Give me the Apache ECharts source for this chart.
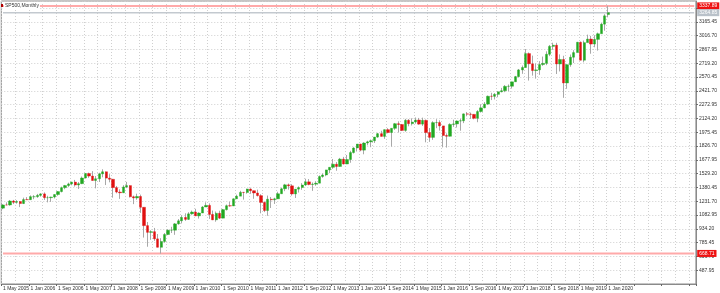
<!DOCTYPE html>
<html><head><meta charset="utf-8">
<script src="https://cdn.jsdelivr.net/npm/echarts@6/dist/echarts.min.js"></script>
<style>html,body{margin:0;padding:0;background:#fff}#c{width:720px;height:293px}</style>
</head><body><div id="c"></div>
<script>
const symbolTitle = "SP500,Monthly";
const xTickLabels = ["1 May 2005","1 Jan 2006","1 Sep 2006","1 May 2007","1 Jan 2008","1 Sep 2008","1 May 2009","1 Jan 2010","1 Sep 2010","1 May 2011","1 Jan 2012","1 Sep 2012","1 May 2013","1 Jan 2014","1 Sep 2014","1 May 2015","1 Jan 2016","1 Sep 2016","1 May 2017","1 Jan 2018","1 Sep 2018","1 May 2019","1 Jan 2020"];

const open = [
1156.85,1191.5,1191.33,1234.18,1220.33,1228.81,1207.01,1249.48,
1248.29,1280.08,1280.66,1294.83,1310.61,1270.09,1270.2,1276.66,1303.82,1335.85,1377.94,1400.63,
1418.3,1438.24,1406.82,1420.86,1482.37,1530.62,1503.35,1455.27,1473.99,1526.75,1549.38,1481.14,
1468.36,1378.55,1330.63,1322.7,1385.59,1400.38,1280,1267.38,1282.83,1166.36,968.75,896.24,
903.25,825.88,735.09,797.87,872.81,919.14,919.32,987.48,1020.62,1057.08,1036.19,1095.63,
1115.1,1073.87,1104.49,1169.43,1186.69,1089.41,1030.71,1101.6,1049.33,1141.2,1183.26,1180.55,
1257.64,1286.12,1327.22,1325.83,1363.61,1345.2,1320.64,1292.28,1218.89,1131.42,1253.3,1246.96,
1257.6,1312.41,1365.68,1408.47,1397.91,1310.33,1362.16,1379.32,1406.58,1440.67,1412.16,1416.18,
1426.19,1498.11,1514.68,1569.19,1597.57,1630.74,1606.28,1685.73,1632.97,1681.55,1756.54,1805.81,
1848.36,1782.59,1859.45,1872.34,1883.95,1923.57,1960.23,1930.67,2003.37,1972.29,2018.05,2067.56,
2058.9,1994.99,2104.5,2067.89,2085.51,2107.39,2063.11,2103.84,1972.18,1920.03,2079.36,2080.41,
2043.94,1940.24,1932.23,2059.74,2065.3,2096.95,2098.86,2173.6,2170.95,2168.27,2126.15,2198.81,
2238.83,2278.87,2363.64,2362.72,2384.2,2411.8,2423.41,2470.3,2471.65,2519.36,2575.26,2647.58,
2673.61,2823.81,2713.83,2640.87,2648.05,2705.27,2718.37,2816.29,2901.52,2913.98,2711.74,2760.17,
2506.85,2704.1,2784.49,2834.4,2945.83,2752.06,2941.76,2980.38,2926.46,2976.74,3037.56,3140.98,
3244.67];

const high = [
1199.56,1219.59,1245.15,1245.86,1243.13,1233.34,1270.64,1275.8,
1294.9,1297.57,1310.88,1318.16,1326.7,1290.68,1280.42,1306.74,1340.28,1389.45,1407.89,1431.81,
1441.61,1461.57,1438.89,1498.02,1535.56,1540.56,1555.9,1503.89,1538.74,1576.09,1552,1523.57,
1471.77,1396.02,1359.68,1404.57,1440.24,1404.05,1292.17,1313.15,1303.04,1167.03,1007.51,918.85,
943.85,877.86,832.98,888.7,930.17,956.23,996.68,1039.47,1080.15,1101.36,1113.69,1130.38,
1150.45,1112.42,1180.16,1219.8,1208.65,1131.23,1120.95,1129.24,1148.9,1196.14,1227.08,1262.6,
1302.67,1344.07,1332.28,1366.6,1370.58,1345.2,1356.48,1307.38,1229.29,1292.66,1277.55,1269.37,
1333.47,1378.04,1419.15,1422.38,1415.32,1363.46,1391.74,1426.68,1474.51,1470.96,1434.27,1448,
1509.94,1530.94,1570.28,1597.57,1687.18,1654.19,1698.78,1709.67,1729.86,1775.22,1813.55,1849.44,
1850.84,1867.92,1883.97,1897.28,1924.03,1968.17,1991.39,2005.04,2019.26,2018.19,2075.76,2093.55,
2064.43,2119.59,2117.52,2125.92,2134.72,2129.87,2132.82,2112.66,2020.86,2094.32,2116.48,2104.27,
2044,1962.96,2072.21,2111.05,2103.48,2120.55,2177.09,2193.81,2187.87,2169.6,2214.1,2277.53,
2300.99,2371.54,2400.98,2398.16,2418.71,2453.82,2484.04,2490.87,2519.44,2582.98,2657.74,2694.97,
2872.87,2835.96,2801.9,2717.49,2742.24,2791.47,2848.03,2916.5,2940.91,2939.86,2815.15,2800.18,
2708.95,2813.49,2860.31,2949.52,2954.13,2964.15,3027.98,3013.59,3021.99,3050.1,3154.26,3247.93,
3337.77];

const low = [
1146.18,1188.3,1183.55,1201.07,1205.35,1168.2,1201.07,1246.59,
1245.74,1253.61,1268.42,1280.74,1245.34,1219.29,1224.54,1261.3,1290.93,1327.1,1360.98,1385.93,
1403.97,1389.42,1363.98,1416.37,1476.7,1484.18,1454.25,1370.6,1439.29,1489.56,1406.1,1435.65,
1270.05,1316.75,1256.98,1320,1373.07,1272,1200.44,1247.45,1106.39,839.8,741.02,815.69,
804.22,734.52,666.79,783.32,866.1,888.86,869.32,978.51,991.97,1019.95,1029.38,1085.89,
1071.59,1044.5,1105.24,1170.69,1040.78,1028.33,1010.91,1039.7,1048.18,1131.87,1173,1186.6,
1257.62,1289.14,1249.05,1312.7,1311.8,1258.07,1282.86,1101.54,1114.22,1074.77,1158.66,1202.37,
1257,1312.41,1340.03,1357.38,1291.98,1266.74,1325.41,1354.65,1396.56,1403.28,1343.35,1398.11,
1426.19,1485.01,1501.48,1536.03,1581.28,1560.33,1604.57,1627.47,1632,1646.47,1746.2,1767.99,
1770.45,1737.92,1834.44,1814.36,1859.79,1915.98,1930.67,1904.78,1964.04,1820.66,2001.01,1972.56,
1988.44,1980.9,2039.69,2048.38,2067.93,2056.32,2044.02,1867.01,1871.91,1893.7,2019.39,1993.26,
1812.29,1810.1,1931,2033.8,2025.91,1991.68,2074.02,2147.58,2119.12,2114.72,2083.79,2187.44,
2233.62,2271.65,2322.25,2328.95,2352.72,2405.7,2407.7,2417.35,2446.55,2520.4,2566.33,2605.52,
2672,2532.69,2585.89,2553.8,2594.62,2691.99,2698.95,2796.34,2864.12,2603.54,2631.09,2346.58,
2443.96,2681.83,2722.27,2848.63,2750.52,2728.81,2952.22,2822.12,2891.85,2855.94,3050.72,3070.33,
3214.64];

const close = [
1191.5,1191.33,1234.18,1220.33,1228.81,1207.01,1249.48,1248.29,
1280.08,1280.66,1294.83,1310.61,1270.09,1270.2,1276.66,1303.82,1335.85,1377.94,1400.63,1418.3,
1438.24,1406.82,1420.86,1482.37,1530.62,1503.35,1455.27,1473.99,1526.75,1549.38,1481.14,1468.36,
1378.55,1330.63,1322.7,1385.59,1400.38,1280,1267.38,1282.83,1166.36,968.75,896.24,903.25,
825.88,735.09,797.87,872.81,919.14,919.32,987.48,1020.62,1057.08,1036.19,1095.63,1115.1,
1073.87,1104.49,1169.43,1186.69,1089.41,1030.71,1101.6,1049.33,1141.2,1183.26,1180.55,1257.64,
1286.12,1327.22,1325.83,1363.61,1345.2,1320.64,1292.28,1218.89,1131.42,1253.3,1246.96,1257.6,
1312.41,1365.68,1408.47,1397.91,1310.33,1362.16,1379.32,1406.58,1440.67,1412.16,1416.18,1426.19,
1498.11,1514.68,1569.19,1597.57,1630.74,1606.28,1685.73,1632.97,1681.55,1756.54,1805.81,1848.36,
1782.59,1859.45,1872.34,1883.95,1923.57,1960.23,1930.67,2003.37,1972.29,2018.05,2067.56,2058.9,
1994.99,2104.5,2067.89,2085.51,2107.39,2063.11,2103.84,1972.18,1920.03,2079.36,2080.41,2043.94,
1940.24,1932.23,2059.74,2065.3,2096.95,2098.86,2173.6,2170.95,2168.27,2126.15,2198.81,2238.83,
2278.87,2363.64,2362.72,2384.2,2411.8,2423.41,2470.3,2471.65,2519.36,2575.26,2647.58,2673.61,
2823.81,2713.83,2640.87,2648.05,2705.27,2718.37,2816.29,2901.52,2913.98,2711.74,2760.17,2506.85,
2704.1,2784.49,2834.4,2945.83,2752.06,2941.76,2980.38,2926.46,2976.74,3037.56,3140.98,3230.78,
3264.85];

const emptyBarsRight = 25;
const levelHigh = 3337.89;
const levelLow = 668.71;
const bidPrice = 3264.85;
const yMin = 339.2, yMax = 3390.7, yStep = 148.75;

const FONT = 'Liberation Sans';
const n = close.length + emptyBarsRight;
const cats = Array.from({length: n}, (_, i) => String(i));
const wickData = open.map((o, i) => [o, close[i], low[i], high[i]]);
const bodyData = open.map((o, i) => [o, close[i], Math.min(o, close[i]), Math.max(o, close[i])]);

const chart = echarts.init(document.getElementById('c'), null, {renderer: 'canvas'});
const PINK = '#ffa9a9';
function levelSeries(value, lineColor, boxColor, w) {
  return {
    type: 'line', data: cats.map(() => value), symbol: 'none', silent: true, z: 2,
    lineStyle: {color: lineColor, width: w, type: 'solid'},
    endLabel: {show: true, distance: 3, formatter: () => value.toFixed(2),
      backgroundColor: boxColor, color: '#fff', fontSize: 5, fontFamily: FONT, padding: [1, 2, 1, 2]}
  };
}

chart.setOption({
  animation: false,
  backgroundColor: '#ffffff',
  grid: {left: 1, right: 23, top: 1, bottom: 9, show: true, borderColor: '#8a8a8a', borderWidth: 1, backgroundColor: '#fff'},
  xAxis: {
    type: 'category', data: cats, boundaryGap: true,
    axisLine: {show: true, lineStyle: {color: '#8a8a8a', width: 1}},
    axisTick: {show: true, interval: 7, length: 2, lineStyle: {color: '#666'}},
    axisLabel: {show: true, interval: 7, align: 'left', margin: 2, fontSize: 5, fontFamily: FONT, color: '#333',
      formatter: (v) => { const k = Number(v) / 8; return xTickLabels[k] || ''; }},
    splitLine: {show: true, interval: 3, lineStyle: {color: '#cfcfcf', type: [1, 2], width: 1}}
  },
  yAxis: {
    type: 'value', position: 'right', min: yMin, max: yMax, interval: yStep, scale: true,
    axisLine: {show: true, lineStyle: {color: '#8a8a8a', width: 1}},
    axisTick: {show: true, length: 2, lineStyle: {color: '#666'}},
    axisLabel: {show: true, margin: 3, fontSize: 5, fontFamily: FONT, color: '#333', showMinLabel: false, showMaxLabel: false,
      formatter: v => (v < 400 || v > 3250) ? '' : v.toFixed(2)},
    splitLine: {show: true, lineStyle: {color: '#cfcfcf', type: [1, 2], width: 1}}
  },
  series: [
    levelSeries(levelHigh, PINK, '#ee1111', 2),
    levelSeries(levelLow, PINK, '#ee1111', 2),
    levelSeries(bidPrice, '#c3c9cf', '#b9c1c9', 1.5),
    {
      type: 'candlestick', name: 'wick', data: wickData, barWidth: 1, z: 3,
      itemStyle: {color: '#a8a8a8', color0: '#a8a8a8', borderColor: '#a8a8a8', borderColor0: '#a8a8a8', borderWidth: 1}
    },
    {
      type: 'candlestick', name: 'body', data: bodyData, barWidth: 2.8, z: 4,
      itemStyle: {color: '#22a822', color0: '#e01010', borderColor: '#22a822', borderColor0: '#e01010', borderWidth: 0.4}
    }
  ],
  graphic: [
    {type: 'rect', left: 1, top: 4, z: 100, shape: {width: 2, height: 3}, style: {fill: '#b00000'}},
    {type: 'text', left: 4, top: 2, z: 100, style: {text: symbolTitle, fontSize: 5, fontFamily: FONT, fill: '#333',
      backgroundColor: '#ffffff', padding: [1, 1, 1, 1]}}
  ]
});
</script></body></html>
